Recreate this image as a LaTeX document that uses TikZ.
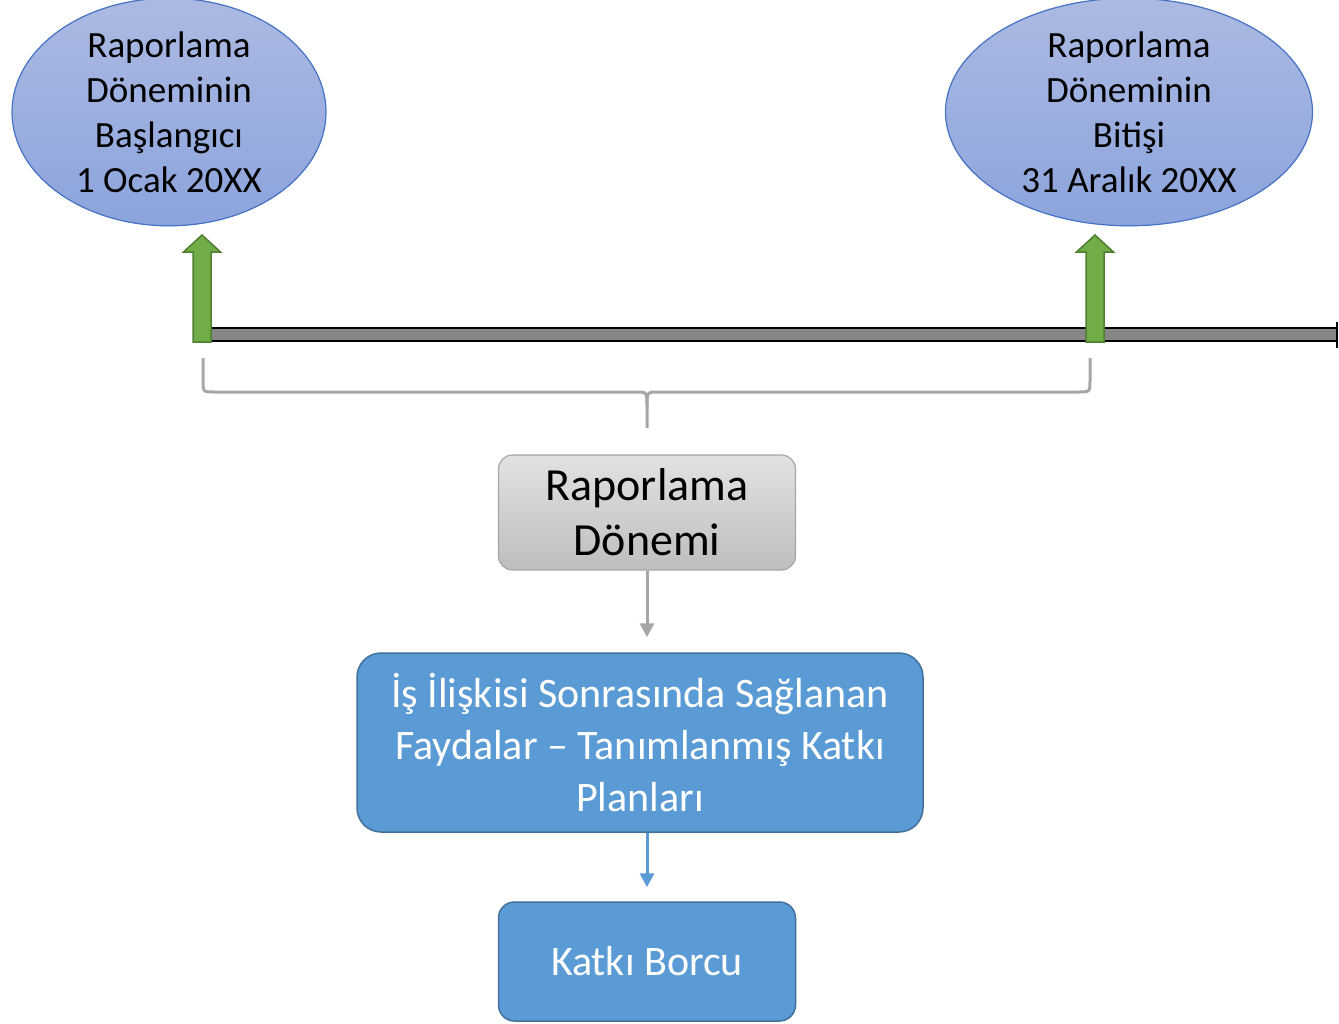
\documentclass[tikz,border=0pt]{standalone}
\usepackage{fontspec}
\setmainfont{Carlito}
\usetikzlibrary{shapes,arrows.meta,positioning,calc}
\definecolor{ovaltop}{RGB}{172,186,226}
\definecolor{ovalbot}{RGB}{140,164,220}
\definecolor{ovalline}{RGB}{68,114,196}
\definecolor{greyfill}{RGB}{226,226,226}
\definecolor{greyfillb}{RGB}{190,190,190}
\definecolor{greyline}{RGB}{166,166,166}
\definecolor{boxblue}{RGB}{91,155,213}
\definecolor{boxline}{RGB}{65,113,156}
\definecolor{arrowgreen}{RGB}{112,173,71}
\definecolor{arrowgreenline}{RGB}{80,126,50}

\begin{document}
\begin{tikzpicture}[x=1pt, y=1pt,
    oval/.style={ellipse, draw=ovalline, line width=1.2pt, top color=ovaltop, bottom color=ovalbot,
                 inner sep=0pt, align=center, font=\fontsize{37}{45}\selectfont},
    greybox/.style={rectangle, rounded corners=14pt, draw=greyline, line width=1.2pt,
                    top color=greyfill, bottom color=greyfillb, minimum width=297pt,
                    minimum height=115pt, align=center, font=\fontsize{46}{55}\selectfont},
    bluebox/.style={rectangle, rounded corners=24pt, draw=boxline, line width=1.5pt, fill=boxblue,
                    text=white, align=center, minimum height=118pt},
    link/.style={-{Triangle[width=14pt,length=14pt]}, line width=3pt},
    fatarrow/.style={fill=arrowgreen, draw=arrowgreenline, line width=1.5pt, line join=miter},
    brace/.style={draw=greyline, line width=3pt}
]
\useasboundingbox (0,0) rectangle (1339,-1023);

% Start and end of the period
\node[oval, minimum width=314pt, minimum height=216pt] (start) at (169,-112)
     {Raporlama\\Döneminin\\Başlangıcı\\1 Ocak 20XX};
\node[oval, minimum width=367pt, minimum height=216pt] (finish) at (1129,-112)
     {Raporlama\\Döneminin\\Bitişi\\31 Aralık 20XX};

% Time line
\coordinate (tstart) at (202,-328);
\coordinate (tend) at (1337,-341);
\draw[fill=gray!95!white, draw=black, line width=1.5pt] (tstart) rectangle (tend);
\draw[line width=1.5pt] ($(tend)+(0,19)$) -- ++(0,-26);

% Green markers
\foreach \x in {202,1095}{
  \draw[fatarrow] (\x-9,-342) -- (\x-9,-252) -- (\x-18.5,-252) -- (\x,-235)
                  -- (\x+18.5,-252) -- (\x+9,-252) -- (\x+9,-342) -- cycle;
}

% Brace under the period
\coordinate (bl) at (203,-358);
\coordinate (br) at (1090,-358);
\coordinate (btip) at (647,-428);
\draw[brace] (bl) -- ++(0,-22) .. controls ++(0,-12) .. ++(12,-12) -- (635,-392)
     .. controls (647,-392) .. (647,-406) -- (btip);
\draw[brace] (br) -- ++(0,-22) .. controls ++(0,-12) .. ++(-12,-12) -- (659,-392)
     .. controls (647,-392) .. (647,-406);

% Boxes
\node[greybox] (period) at (647,-512.5) {Raporlama\\Dönemi};
\node[bluebox, minimum width=566pt, minimum height=179pt, font=\fontsize{42}{52}\selectfont]
     (plans) at (640,-742.5) {İş İlişkisi Sonrasında Sağlanan\\Faydalar – Tanımlanmış Katkı\\Planları};
\node[bluebox, rounded corners=16pt, minimum width=297pt, minimum height=119pt, font=\fontsize{42}{52}\selectfont]
     (payable) at (647,-961.5) {Katkı Borcu};

% Arrows
\draw[link, draw=greyline, fill=greyline, shorten >=15pt] (period.south) -- (period.south |- plans.north);
\draw[link, draw=boxblue, fill=boxblue, shorten >=14pt] (plans.south -| payable.north) -- (payable.north);

\end{tikzpicture}
\end{document}
